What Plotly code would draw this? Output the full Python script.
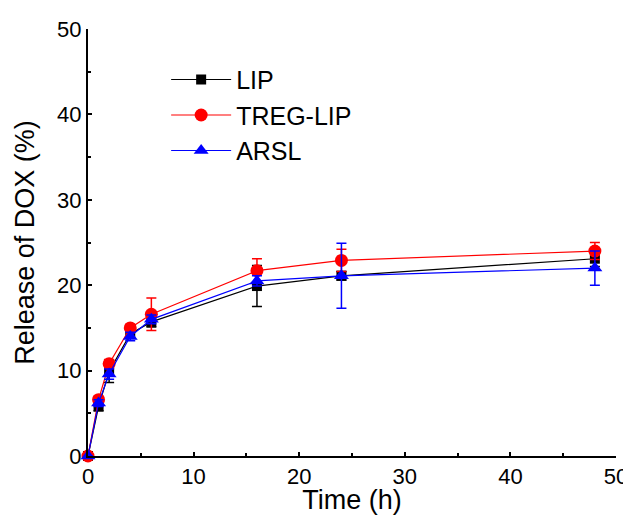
import plotly.graph_objects as go

time_h = [0, 1, 2, 4, 6, 16, 24, 48]
lip = [0, 5.8, 9.9, 14.3, 15.7, 19.9, 21.1, 23.1]
lip_err = [0, 0.5, 1.3, 0.5, 0.6, 2.4, 0.5, 0.9]
treg = [0, 6.6, 10.8, 15.0, 16.6, 21.7, 22.9, 24.0]
treg_err = [0, 0.4, 0.5, 0.4, 1.9, 1.4, 1.3, 1.0]
arsl = [0, 6.2, 9.6, 14.0, 16.0, 20.5, 21.1, 22.0]
arsl_err = [0, 0.4, 0.6, 0.5, 0.5, 0.6, 3.8, 2.0]

series = [
    ("LIP", lip, lip_err, "black", "square", 10),
    ("TREG-LIP", treg, treg_err, "red", "circle", 13),
    ("ARSL", arsl, arsl_err, "blue", "triangle-up", 13),
]

fig = go.Figure()
for name, ys, errs, col, sym, sz in series:
    fig.add_trace(go.Scatter(
        x=time_h, y=ys, name=name, mode="lines+markers",
        line=dict(color=col, width=1.2),
        marker=dict(color=col, symbol=sym, size=sz),
        error_y=dict(type="data", array=errs, visible=True, color=col, thickness=1.5, width=5),
        cliponaxis=False,
    ))

font_family = "Liberation Sans, Arial, sans-serif"
# page body has an 8px default margin, so the figure is sized to fit the window
fig.update_layout(
    width=623, height=507,
    margin=dict(l=80, r=15, t=21, b=59),
    paper_bgcolor="white", plot_bgcolor="white",
    font=dict(family=font_family, color="black", size=22),
    showlegend=True,
    legend=dict(x=0.148, y=0.935, xanchor="left", yanchor="top",
                bgcolor="rgba(0,0,0,0)", font=dict(size=25),
                itemwidth=60, tracegroupgap=0),
    xaxis=dict(range=[0, 50], tickvals=[0, 10, 20, 30, 40, 50],
               automargin=False, ticklabeloverflow="allow",
               showline=True, linecolor="black", linewidth=2,
               ticks="inside", ticklen=4, tickwidth=1.5, tickcolor="black",
               minor=dict(tickvals=[5, 15, 25, 35, 45], ticks="inside", ticklen=3, tickcolor="black"),
               showgrid=False, zeroline=False, tickfont=dict(size=22),
               title=dict(text="Time (h)", font=dict(size=27), standoff=7)),
    yaxis=dict(range=[0, 50], tickvals=[0, 10, 20, 30, 40, 50],
               automargin=False, ticklabeloverflow="allow",
               showline=True, linecolor="black", linewidth=2,
               ticks="inside", ticklen=4, tickwidth=1.5, tickcolor="black",
               minor=dict(tickvals=[5, 15, 25, 35, 45], ticks="inside", ticklen=3, tickcolor="black"),
               showgrid=False, zeroline=False, tickfont=dict(size=22),
               title=dict(text="Release of DOX (%)", font=dict(size=27), standoff=15)),
)

fig.write_html("out.html")
